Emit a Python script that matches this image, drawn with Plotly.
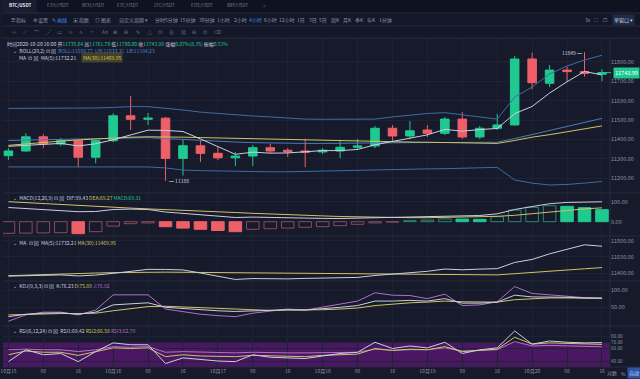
import plotly.graph_objects as go

# ---------------- data ----------------
idx = list(range(35))
tick_idx = list(range(0, 35, 2))
tick_text = ["10月15", "08", "16", "10月16", "08", "16", "10月17", "08", "16",
             "10月18", "08", "16", "10月19", "08", "16", "10月20", "08", "16"]

opens = [11317, 11341, 11414, 11377, 11394, 11309, 11394, 11522, 11504, 11510,
         11303, 11368, 11329, 11306, 11315, 11358, 11345, 11341, 11336, 11341,
         11360, 11367, 11458, 11418, 11449, 11432, 11505, 11413, 11458, 11475,
         11814, 11689, 11757, 11749, 11735.64]
highs = [11356, 11432, 11428, 11408, 11397, 11397, 11535, 11624, 11536, 11516,
         11397, 11397, 11361, 11335, 11372, 11377, 11356, 11403, 11356, 11397,
         11403, 11470, 11474, 11495, 11474, 11516, 11541, 11470, 11531, 11829,
         11846, 11783, 11775, 11849, 11761.70]
lows = [11295, 11337, 11356, 11366, 11258, 11278, 11387, 11449, 11475, 11188,
        11215, 11284, 11294, 11263, 11263, 11330, 11310, 11258, 11325, 11305,
        11346, 11356, 11392, 11403, 11413, 11423, 11403, 11403, 11449, 11470,
        11658, 11670, 11697, 11723, 11700.00]
closes = [11341, 11414, 11377, 11394, 11309, 11394, 11522, 11504, 11510, 11303,
          11368, 11329, 11306, 11315, 11358, 11341, 11337, 11334, 11345, 11360,
          11367, 11458, 11418, 11445, 11432, 11505, 11413, 11458, 11475, 11814,
          11692, 11757, 11749, 11740, 11743.99]

boll_ub = [11560, 11560, 11560, 11561, 11561, 11562, 11565, 11569, 11569, 11562,
           11552, 11541, 11534, 11526, 11521, 11516, 11510, 11505, 11504, 11505,
           11505, 11505, 11516, 11526, 11534, 11538, 11526, 11516, 11505, 11618,
           11670, 11737, 11778, 11809, 11833.31]
boll_mb = [11395, 11397, 11399, 11401, 11403, 11405, 11407, 11409, 11410, 11405,
           11400, 11395, 11391, 11387, 11384, 11382, 11381, 11380, 11380, 11380,
           11381, 11382, 11383, 11384, 11385, 11386, 11385, 11385, 11386, 11405,
           11425, 11447, 11467, 11488, 11508.77]
boll_lb = [11259, 11259, 11259, 11259, 11259, 11259, 11259, 11259, 11259, 11254,
           11243, 11240, 11238, 11236, 11235, 11234, 11234, 11236, 11240, 11241,
           11242, 11243, 11245, 11247, 11249, 11250, 11252, 11254, 11257, 11192,
           11176, 11166, 11169, 11176, 11184.23]
ma5 = [11365, 11370, 11375, 11380, 11367, 11378, 11399, 11425, 11448, 11447,
       11441, 11403, 11363, 11324, 11335, 11330, 11331, 11337, 11343, 11343,
       11349, 11373, 11390, 11410, 11424, 11452, 11443, 11451, 11457, 11533,
       11570, 11639, 11697, 11750, 11732.21]
ma30 = [11370, 11378, 11385, 11392, 11398, 11403, 11408, 11412, 11414, 11414,
        11412, 11410, 11408, 11405, 11402, 11400, 11398, 11396, 11394, 11392,
        11390, 11389, 11388, 11387, 11386, 11385, 11384, 11382, 11380, 11395,
        11412, 11425, 11440, 11455, 11469.95]

dif = [71, 66.5, 62, 57.5, 50, 51, 61, 63, 61, 48.5, 42, 35, 28, 21, 23, 20.5, 19,
       18, 16.5, 16, 17.5, 19, 20, 22.5, 24, 28, 29.5, 31, 39.5, 61, 76, 90, 96.5,
       99, 99.43]
dea = [100, 95, 90, 85, 80, 76, 72, 68, 64, 61, 58, 54, 50, 46, 42, 38, 35, 32,
       29, 26, 24, 22, 21, 20, 20, 21, 23, 25, 27, 32, 40, 50, 58, 64, 69.27]
macd_hist = [-58, -57, -56, -55, -60, -50, -22, -10, -6, -25, -32, -38, -44, -50,
             -38, -35, -32, -28, -25, -20, -13, -6, -2, 5, 8, 14, 13, 12, 25, 58,
             72, 80, 77, 70, 60.31]

kdj_k = [23, 30, 33, 34, 30, 36, 57, 60, 63, 50, 46, 42, 40, 38, 40, 42, 43, 42,
         45, 50, 55, 68, 68, 70, 68, 75, 62, 62, 65, 85, 80, 80, 79, 77, 76.23]
kdj_d = [28, 30, 31, 32, 32, 33, 40, 47, 52, 53, 51, 49, 46, 44, 42, 41, 42, 42,
         43, 45, 48, 55, 60, 63, 65, 68, 66, 65, 65, 72, 75, 77, 77, 76, 75.89]
kdj_j = [10, 28, 36, 36, 28, 42, 86, 86, 86, 45, 38, 30, 26, 23, 33, 40, 45, 42,
         50, 60, 68, 92, 85, 84, 75, 88, 55, 57, 66, 110, 90, 86, 82, 78, 76.92]

rsi1 = [39, 58, 50, 52, 39, 55, 69, 66, 66, 36, 45, 42, 40, 39, 50, 46, 45, 44,
        48, 52, 54, 70, 60, 64, 61, 70, 52, 58, 61, 88, 67, 72, 70, 69, 69.42]
rsi2 = [50, 56, 54, 54, 49, 55, 61, 60, 61, 47, 50, 48, 47, 47, 49, 48, 48, 47,
        49, 50, 51, 60, 57, 59, 58, 63, 55, 57, 59, 78, 67, 69, 68, 67, 66.58]
rsi3 = [58, 59, 58, 58, 55, 58, 63, 62, 63, 54, 55, 54, 53, 53, 54, 53, 53, 53,
        53, 54, 54, 59, 57, 58, 58, 61, 56, 57, 58, 71, 64, 65, 64, 63, 62.70]

# ---------------- style ----------------
BG = "#161a2b"
GRID = "#1d2234"
SEP = "#262c3f"
GREEN = "#20c98f"
RED = "#ef5f67"
BLUE = "#3b6da6"
WHITE = "#c9cee0"
YELLOW = "#cfc463"
PURPLE = "#b56ccc"
TXT = "#8f95aa"
FONT = "Noto Sans CJK SC, Noto Sans, sans-serif"
FS = 5

W, H = 640, 379
ML, MR, MT, MB = 0, 30, 38, 12
PW = W - ML - MR
PH = H - MT - MB


def px(x, y):
    return (x - ML) / PW, (H - MB - y) / PH


def dom(top, bottom):
    return [(H - MB - bottom) / PH, (H - MB - top) / PH]


fig = go.Figure()

# main panel
fig.add_trace(go.Scatter(x=idx, y=boll_ub, mode="lines", line=dict(color=BLUE, width=1), yaxis="y"))
fig.add_trace(go.Scatter(x=idx, y=boll_lb, mode="lines", line=dict(color=BLUE, width=1), yaxis="y"))
fig.add_trace(go.Scatter(x=idx, y=boll_mb, mode="lines", line=dict(color="#4a7db5", width=1), yaxis="y"))
fig.add_trace(go.Scatter(x=idx, y=ma30, mode="lines", line=dict(color=YELLOW, width=1), yaxis="y"))
fig.add_trace(go.Scatter(x=idx, y=ma5, mode="lines", line=dict(color=WHITE, width=1), yaxis="y"))
fig.add_trace(go.Candlestick(
    x=idx, open=opens, high=highs, low=lows, close=closes, yaxis="y",
    increasing=dict(line=dict(color=GREEN, width=1), fillcolor=GREEN),
    decreasing=dict(line=dict(color=RED, width=1), fillcolor=RED),
    whiskerwidth=0))

# MACD panel
fill_cols, line_cols = [], []
for i, v in enumerate(macd_hist):
    col = GREEN if v >= 0 else RED
    dim = "#2b8a6d" if v >= 0 else "#8a4d5c"
    filled = i > 0 and v < macd_hist[i - 1]
    fill_cols.append(col if filled else BG)
    line_cols.append(col if filled else dim)
fig.add_trace(go.Bar(x=idx, y=macd_hist, width=0.72, yaxis="y2",
                     marker=dict(color=fill_cols, line=dict(color=line_cols, width=1))))
fig.add_trace(go.Scatter(x=idx, y=dea, mode="lines", line=dict(color=YELLOW, width=1), yaxis="y2"))
fig.add_trace(go.Scatter(x=idx, y=dif, mode="lines", line=dict(color=WHITE, width=1), yaxis="y2"))

# MA panel
fig.add_trace(go.Scatter(x=idx, y=ma30, mode="lines", line=dict(color=YELLOW, width=1), yaxis="y3"))
fig.add_trace(go.Scatter(x=idx, y=ma5, mode="lines", line=dict(color=WHITE, width=1), yaxis="y3"))

# KDJ panel
fig.add_trace(go.Scatter(x=idx, y=kdj_j, mode="lines", line=dict(color=PURPLE, width=1), yaxis="y4"))
fig.add_trace(go.Scatter(x=idx, y=kdj_d, mode="lines", line=dict(color=YELLOW, width=1), yaxis="y4"))
fig.add_trace(go.Scatter(x=idx, y=kdj_k, mode="lines", line=dict(color=WHITE, width=1), yaxis="y4"))

# RSI panel
fig.add_trace(go.Scatter(x=idx, y=rsi3, mode="lines", line=dict(color=PURPLE, width=1), yaxis="y5"))
fig.add_trace(go.Scatter(x=idx, y=rsi2, mode="lines", line=dict(color=YELLOW, width=1), yaxis="y5"))
fig.add_trace(go.Scatter(x=idx, y=rsi1, mode="lines", line=dict(color=WHITE, width=1), yaxis="y5"))


def yax(domain, rng, tickvals, fs=5.5):
    return dict(domain=domain, range=rng, side="right", anchor="x", tickvals=tickvals,
                tickformat=".2f", showgrid=True, gridcolor=GRID, gridwidth=1,
                zeroline=False, showline=False, ticks="",
                tickfont=dict(family=FONT, size=fs, color=TXT), fixedrange=True)


shapes = []
# RSI band fill
shapes.append(dict(type="rect", xref="x domain", yref="y5", x0=0, x1=1, y0=30, y1=70,
                   fillcolor="#4a1763", line=dict(width=0), layer="below"))
# header background
shapes.append(dict(type="rect", xref="paper", yref="paper", x0=px(0, 0)[0], x1=px(640, 0)[0],
                   y0=px(0, 38)[1], y1=px(0, 0)[1], fillcolor="#131727", line=dict(width=0),
                   layer="below"))
shapes.append(dict(type="rect", xref="paper", yref="paper", x0=px(0, 0)[0], x1=px(640, 0)[0],
                   y0=px(0, 13)[1], y1=px(0, 0)[1], fillcolor="#0f1220", line=dict(width=0),
                   layer="below"))
# active tab
shapes.append(dict(type="rect", xref="paper", yref="paper", x0=px(0, 0)[0], x1=px(34, 0)[0],
                   y0=px(0, 13)[1], y1=px(0, 0)[1], fillcolor="#181d30", line=dict(width=0),
                   layer="below"))
for yy in [13, 26, 38, 193, 236, 281, 326, 367]:
    shapes.append(dict(type="line", xref="paper", yref="paper", x0=px(0, 0)[0], x1=px(640, 0)[0],
                       y0=px(0, yy)[1], y1=px(0, yy)[1], line=dict(color=SEP, width=1)))
shapes.append(dict(type="line", xref="paper", yref="paper", x0=1, x1=1,
                   y0=0, y1=1, line=dict(color=SEP, width=1)))
# last price dash
shapes.append(dict(type="line", xref="paper", yref="y", x0=px(606, 0)[0], x1=px(611, 0)[0],
                   y0=closes[-1], y1=closes[-1], line=dict(color=GREEN, width=1)))

ann = []


def text(x, y, s, size=FS, color=TXT, anchor="left", bg=None, bold=False):
    xx, yy = px(x, y)
    if bold:
        s = "<b>" + s + "</b>"
    d = dict(xref="paper", yref="paper", x=xx, y=yy, text=s, showarrow=False,
             xanchor=anchor, yanchor="middle", font=dict(family=FONT, size=size, color=color))
    if bg:
        d["bgcolor"] = bg
        d["borderpad"] = 1
    ann.append(d)


def c(s, col):
    return '<span style="color:%s">%s</span>' % (col, s)


# tabs
tabs = [("BTC/USDT", 4), ("ETH/USDT", 42), ("BCH/USDT", 77), ("ETC/USDT", 113),
        ("LTC/USDT", 150), ("EOS/USDT", 187), ("XRP/USDT", 223)]
for i, (t, x) in enumerate(tabs):
    text(x, 5.5, t, size=4.5, color="#e6e8f0" if i == 0 else "#7d8399", bold=(i == 0))
text(259, 6, "+", size=4.5, color="#7d8399")

# toolbar row
row2 = [("☰ 指标", 6, TXT), ("⚙ 设置", 28, TXT), ("✎ 画线", 47, "#3f86f0"), ("▣ 指数", 68, TXT),
        ("◎ 图表", 90, TXT), ("自定义周期 ▾", 115, TXT), ("分时", 151, TXT), ("5分钟", 161, TXT),
        ("15分钟", 176, TXT), ("30分钟", 195, TXT), ("1小时", 213, TXT), ("2小时", 230, TXT),
        ("4小时", 245, "#3f86f0"), ("6小时", 260, TXT), ("12小时", 275, TXT), ("1日", 293, TXT),
        ("3日", 305, TXT), ("5日", 316, TXT), ("周K", 328, TXT), ("月K", 340, TXT),
        ("季K", 352, TXT), ("年K", 364, TXT), ("1分钟", 376, TXT), ("3x", 583, TXT),
        ("⛶", 592, TXT), ("☐", 601, TXT)]
for t, x, col in row2:
    text(x, 19.5, t, size=FS, color=col)
text(612, 19.5, "单窗口 ▾", size=FS, color="#c9cee0", bg="#1f2a44")

# drawing tools row
tools = ["⊹", "⟋", "⌒", "⋰", "▭", "≡", "∿", "⌗", "Aa", "⊞", "⊟", "✎", "△", "⊡", "⊕", "⊠", "⊟", "⊡", "⌫"]
for k, t in enumerate(tools):
    text(7 + k * 11.3, 31.5, t, size=FS, color="#6f768c")

# info rows
info = ("时间2020-10-20 16:00 开" + c("11735.64", GREEN) + " 高" + c("11761.70", GREEN) +
        " 低" + c("11700.00", GREEN) + " 收" + c("11743.99", GREEN) + " 涨幅" +
        c("0.07%(8.35)", GREEN) + " 振幅" + c("0.53%", GREEN))
text(2, 43.5, info, size=FS, color="#c9cee0")
text(8, 50.5, "⌄  BOLL(20,2) ⊡ ⊠  " + c("BOLL:11508.77  UB:11833.31  LB:11184.23", "#4a86d0"),
     size=FS, color="#c9cee0")
text(14, 57.5, "MA  ⊡ ⊠  MA(5):11732.21", size=FS, color="#c9cee0")
text(78, 57.5, "MA(30):11469.95", size=FS, color=YELLOW, bg="rgba(120,110,30,0.45)")

text(8, 197.5, "⌄  MACD(12,26,9) ⊡ ⊠  DIF:99.43 " + c("DEA:69.27", YELLOW) + " " +
     c("MACD:60.31", GREEN), size=FS, color="#c9cee0")
text(8, 242, "⌄  MA  ⊡ ⊠  MA(5):11732.21 " + c("MA(30):11469.95", YELLOW), size=FS, color="#c9cee0")
text(8, 285, "⌄  KDJ(9,3,3) ⊡ ⊠  K:76.23 " + c("D:75.89", YELLOW) + " " + c("J:76.92", PURPLE),
     size=FS, color="#c9cee0")
text(8, 330, "⌄  RSI(6,12,24) ⊡ ⊠  RSI1:69.42 " + c("RSI2:66.58", YELLOW) + " " +
     c("RSI3:62.70", PURPLE), size=FS, color="#c9cee0")

# bottom right controls
text(605, 373, "对数", size=FS, color=TXT)
text(619, 373, "%", size=FS, color=TXT)
text(627, 373, "自动", size=FS, color="#c9cee0", bg="#2a55a8")

# high / low markers
ann.append(dict(xref="x", yref="y", x=33, y=max(highs), text="11849 ━", showarrow=False,
                xanchor="right", yanchor="middle", xshift=-1,
                font=dict(family=FONT, size=FS, color="#c9cee0")))
ann.append(dict(xref="x", yref="y", x=9, y=min(lows), text="━ 11188", showarrow=False,
                xanchor="left", yanchor="middle", xshift=1,
                font=dict(family=FONT, size=FS, color="#c9cee0")))
# last price box
ann.append(dict(xref="paper", yref="y", x=px(613, 0)[0], y=closes[-1], text="11743.99",
                showarrow=False, xanchor="left", yanchor="middle", bgcolor=GREEN, borderpad=1,
                font=dict(family=FONT, size=5.5, color="#ffffff")))

fig.update_layout(
    width=W, height=H, margin=dict(l=ML, r=MR, t=MT, b=MB),
    paper_bgcolor=BG, plot_bgcolor=BG, showlegend=False,
    font=dict(family=FONT, size=FS, color=TXT),
    xaxis=dict(domain=[0, 1], range=[-0.31, 34.46], anchor="y5", tickvals=tick_idx,
               ticktext=tick_text, showgrid=True, gridcolor=GRID, zeroline=False,
               ticks="", tickfont=dict(family=FONT, size=5, color=TXT),
               rangeslider=dict(visible=False), ticklabeloverflow="allow", fixedrange=True),
    yaxis=yax(dom(38, 193), [11125, 11922], [11200, 11300, 11400, 11500, 11600, 11700, 11800]),
    yaxis2=yax(dom(193, 236), [-71.5, 143.5], [0, 100]),
    yaxis3=yax(dom(236, 281), [11305, 11858], [11400, 11600, 11800]),
    yaxis4=yax(dom(281, 326), [-4, 126], [50, 100]),
    yaxis5=yax(dom(326, 367), [30.4, 96], [40, 60, 70, 80], fs=4.6),
    shapes=shapes, annotations=ann, hovermode=False, bargap=0.28,
)

fig.write_html("out.html", config={"displayModeBar": False},
               post_script="document.body.style.margin='0';document.body.style.overflow='hidden';")
